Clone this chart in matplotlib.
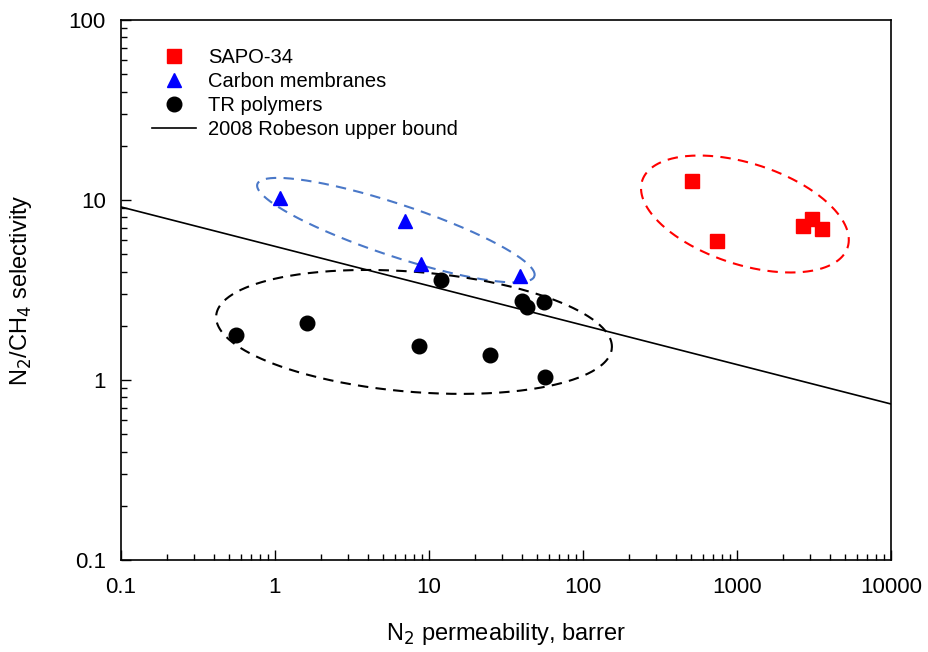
import numpy as np
import matplotlib
matplotlib.use('Agg')
import matplotlib.pyplot as plt
from matplotlib.ticker import FixedLocator, FixedFormatter, LogLocator, NullFormatter

plt.rcParams['font.family'] = ['Liberation Sans', 'DejaVu Sans']

# SAPO-34 membranes
sapo_perm = [511, 741, 2686, 3070, 3566]
sapo_sel = [12.8, 5.92, 7.17, 7.84, 6.9]

# carbon membranes
carbon_perm = [1.08, 6.98, 8.87, 38.9]
carbon_sel = [10.2, 7.65, 4.41, 3.78]

# TR polymers
tr_perm = [0.558, 1.61, 8.6, 12.0, 24.9, 40.2, 43.3, 55.9, 56.8]
tr_sel = [1.78, 2.07, 1.55, 3.59, 1.38, 2.75, 2.54, 2.71, 1.04]

# 2008 Robeson upper bound (end points)
robeson_perm = [0.1, 10000]
robeson_sel = [9.15, 0.736]

xticks = [0.1, 1, 10, 100, 1000, 10000]
xtick_labels = ['0.1', '1', '10', '100', '1000', '10000']
yticks = [0.1, 1, 10, 100]
ytick_labels = ['0.1', '1', '10', '100']

# group ellipses: centre (data), semi axes (px), angle (deg, clockwise on screen), colour
ellipses = [
    ((6.1, 6.8), 146, 26, 18.4, '#4a78c8'),
    ((8.0, 1.85), 198.5, 60, 4.7, 'black'),
    ((1127, 8.36), 108, 50.5, 18.0, 'red'),
]

fig = plt.figure(figsize=(9.29, 6.52), dpi=100)
ax = fig.add_axes([0.1302, 0.1411, 0.959 - 0.1302, 0.9693 - 0.1411])

ax.set_xscale('log')
ax.set_yscale('log')
ax.set_xlim(0.1, 10000)
ax.set_ylim(0.1, 100)

ax.plot(robeson_perm, robeson_sel, color='black', lw=1.2, label='2008 Robeson upper bound', zorder=2)
ax.plot(sapo_perm, sapo_sel, 's', color='red', ms=9.5, ls='none', label='SAPO-34', zorder=3)
ax.plot(carbon_perm, carbon_sel, '^', color='blue', ms=10.5, ls='none', label='Carbon membranes', zorder=3)
ax.plot(tr_perm, tr_sel, 'o', color='black', ms=10.5, ls='none', label='TR polymers', zorder=3)

# ellipses drawn in screen space so they look like the original
fig.canvas.draw()
t = np.linspace(0, 2 * np.pi, 400)
for (cx, cy), a, b, ang, col in ellipses:
    c = ax.transData.transform((cx, cy))
    th = np.deg2rad(-ang)
    px = c[0] + a * np.cos(t) * np.cos(th) - b * np.sin(t) * np.sin(th)
    py = c[1] + a * np.cos(t) * np.sin(th) + b * np.sin(t) * np.cos(th)
    pts = ax.transData.inverted().transform(np.column_stack([px, py]))
    ax.plot(pts[:, 0], pts[:, 1], color=col, lw=1.5, ls=(0, (5, 3.5)), zorder=1)

ax.xaxis.set_major_locator(FixedLocator(xticks))
ax.xaxis.set_major_formatter(FixedFormatter(xtick_labels))
ax.yaxis.set_major_locator(FixedLocator(yticks))
ax.yaxis.set_major_formatter(FixedFormatter(ytick_labels))
ax.xaxis.set_minor_locator(LogLocator(base=10, subs=np.arange(2, 10)))
ax.yaxis.set_minor_locator(LogLocator(base=10, subs=np.arange(2, 10)))
ax.xaxis.set_minor_formatter(NullFormatter())
ax.yaxis.set_minor_formatter(NullFormatter())
ax.tick_params(which='both', direction='in', top=False, right=False, labelsize=16, width=1)
ax.tick_params(which='major', length=7)
ax.tick_params(axis='y', which='major', pad=11)
ax.tick_params(axis='x', which='major', pad=12)
ax.tick_params(which='minor', length=4)
for s in ax.spines.values():
    s.set_linewidth(1.2)

ax.set_xlabel('N$_2$ permeability, barrer', fontsize=17, labelpad=17)
ax.set_ylabel('N$_2$/CH$_4$ selectivity', fontsize=17, labelpad=25)

h, l = ax.get_legend_handles_labels()
order = [1, 2, 3, 0]
ax.legend([h[i] for i in order], [l[i] for i in order], frameon=False, fontsize=14.5,
          loc='upper left', bbox_to_anchor=(0.03, 0.963), handlelength=2.2,
          handletextpad=0.6, labelspacing=0.24, borderaxespad=0)

fig.savefig('out.png', dpi=100)
